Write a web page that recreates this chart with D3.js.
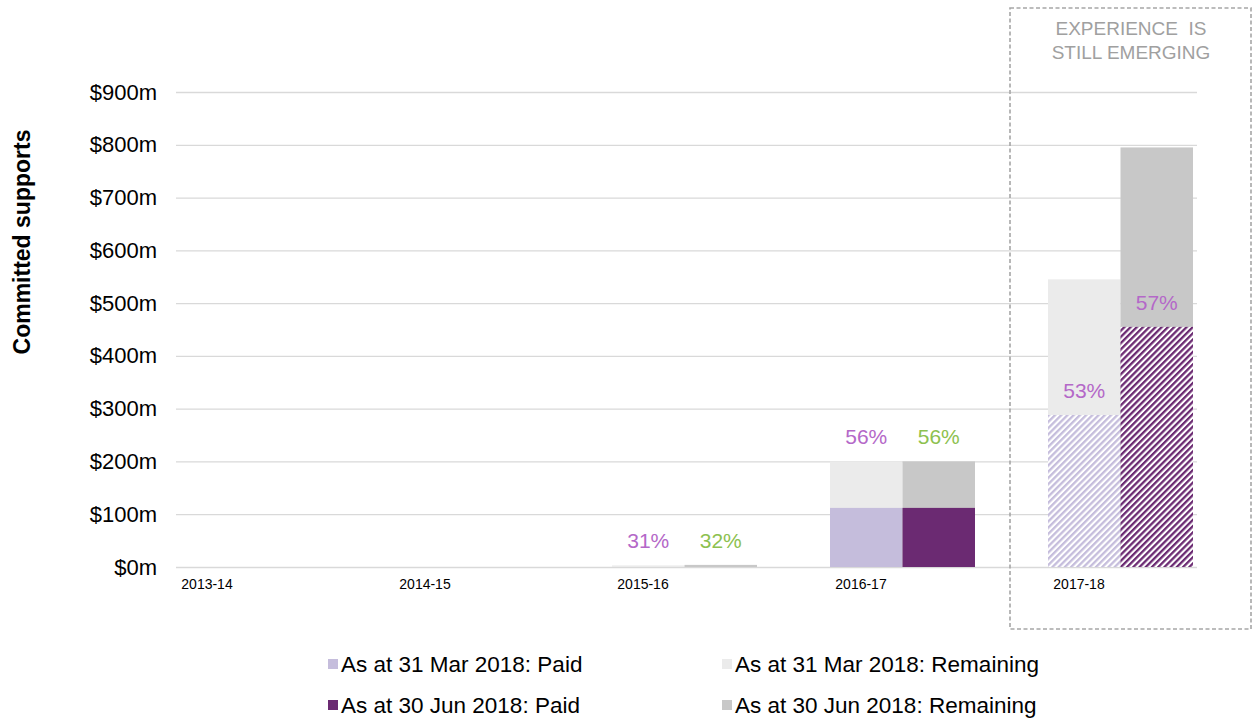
<!DOCTYPE html>
<html><head><meta charset="utf-8">
<script src="https://cdn.jsdelivr.net/npm/d3@7"></script>
<style>body{margin:0;background:#fff}svg{display:block;font-family:"Liberation Sans",Arial,sans-serif}</style>
</head><body><svg id="c" width="1259" height="722"></svg>
<script>
const categories = ["2013-14", "2014-15", "2015-16", "2016-17", "2017-18"];
const marPaid = [0, 0, 0.9, 112, 288];
const marRemaining = [0, 0, 2.1, 88, 257];
const junPaid = [0, 0, 1.3, 112, 455];
const junRemaining = [0, 0, 2.7, 88, 340];
const marPctLabels = ["", "", "31%", "56%", "53%"];
const junPctLabels = ["", "", "32%", "56%", "57%"];
const yTickValues = [0, 100, 200, 300, 400, 500, 600, 700, 800, 900];
const emergingYears = ["2017-18"];
const emergingText = ["EXPERIENCE  IS", "STILL EMERGING"];
const legendLabels = ["As at 31 Mar 2018: Paid", "As at 31 Mar 2018: Remaining", "As at 30 Jun 2018: Paid", "As at 30 Jun 2018: Remaining"];
const yTitle = "Committed supports";

const svg = d3.select("#c");
const defs = svg.append("defs");
function hatch(id, color) {
  const p = defs.append("pattern").attr("id", id).attr("patternUnits", "userSpaceOnUse")
    .attr("width", 4.4).attr("height", 4.4).attr("patternTransform", "rotate(45)");
  p.append("rect").attr("width", 4.4).attr("height", 4.4).attr("fill", "#fff");
  p.append("rect").attr("width", 2.3).attr("height", 4.4).attr("fill", color);
}
const C = {marPaid: "#c5bddc", junPaid: "#6b2a72", marRem: "#ebebeb", junRem: "#c8c8c8", purple: "#b468c8", green: "#8dc14f"};
hatch("hMar", C.marPaid);
hatch("hJun", C.junPaid);

const y = d3.scaleLinear().domain([0, 900]).range([567, 92]);
const x = d3.scaleBand().domain(categories).range([98, 1188]);
const pair = d3.scaleBand().domain(["mar", "jun"]).range([-31, 114]);
const gridL = 176, gridR = 1197;

// y axis + gridlines
const yAxis = svg.append("g").attr("transform", `translate(${gridL},0)`)
  .call(d3.axisLeft(y).tickValues(yTickValues).tickFormat(d => `$${d}m`)
    .tickSizeInner(-(gridR - gridL)).tickSizeOuter(0).tickPadding(19));
yAxis.select(".domain").remove();
yAxis.selectAll(".tick line").attr("stroke", "#d9d9d9").attr("stroke-width", 1.3);
yAxis.selectAll(".tick text").attr("font-size", 22).attr("fill", "#000").attr("font-family", "Liberation Sans, Arial, sans-serif");

// x labels
const xAxis = svg.append("g").attr("transform", `translate(0,567)`)
  .call(d3.axisBottom(x).tickSize(0).tickPadding(12));
xAxis.select(".domain").remove();
xAxis.selectAll(".tick text").attr("font-size", 14).attr("fill", "#000").attr("font-family", "Liberation Sans, Arial, sans-serif");

// bars
const series = [
  {key: "mar", paid: marPaid, rem: marRemaining, paidColor: C.marPaid, remColor: C.marRem, hatch: "url(#hMar)", pct: marPctLabels, pctColor: C.purple},
  {key: "jun", paid: junPaid, rem: junRemaining, paidColor: C.junPaid, remColor: C.junRem, hatch: "url(#hJun)", pct: junPctLabels, pctColor: C.green}
];
const bars = svg.append("g");
series.forEach(s => {
  categories.forEach((c, i) => {
    const cx = x(c) + x.bandwidth() / 2 + pair(s.key);
    const emerging = emergingYears.includes(c);
    const total = s.paid[i] + s.rem[i];
    if (total > 0) {
      bars.append("rect").attr("x", cx).attr("width", pair.bandwidth())
        .attr("y", y(total)).attr("height", y(0) - y(total)).attr("fill", s.remColor);
      if (y(0) - y(s.paid[i]) >= 1) {
        bars.append("rect").attr("x", cx).attr("width", pair.bandwidth())
          .attr("y", y(s.paid[i])).attr("height", y(0) - y(s.paid[i]))
          .attr("fill", emerging ? s.hatch : s.paidColor);
      }
    }
    if (s.pct[i]) {
      const anchor = emerging ? s.paid[i] : total;
      bars.append("text").attr("x", cx + pair.bandwidth() / 2).attr("y", y(anchor) - 17)
        .attr("text-anchor", "middle").attr("font-size", 21)
        .attr("fill", emerging ? C.purple : s.pctColor).text(s.pct[i]);
    }
  });
});

// emerging box
emergingYears.forEach(c => {
  const bx = x(c) + x.bandwidth() / 2 - 69;
  svg.append("rect").attr("x", bx).attr("y", 8).attr("width", 241).attr("height", 621)
    .attr("fill", "none").attr("stroke", "#a6a6a6").attr("stroke-width", 1.6).attr("stroke-dasharray", "4,2.5");
  emergingText.forEach((t, k) => {
    svg.append("text").attr("x", bx + 121).attr("y", 35 + k * 24).attr("text-anchor", "middle")
      .attr("xml:space", "preserve").style("white-space", "pre")
      .attr("font-size", 19).attr("fill", "#a0a0a0").text(t);
  });
});

// y title
svg.append("text").attr("transform", "translate(30,242) rotate(-90)").attr("text-anchor", "middle")
  .attr("font-size", 23).attr("font-weight", "bold").attr("fill", "#000").text(yTitle);

// legend
const legendColors = [C.marPaid, C.marRem, C.junPaid, C.junRem];
const lg = svg.append("g");
legendLabels.forEach((t, k) => {
  const lx = [328, 722][k % 2], ly = [664, 705][Math.floor(k / 2)];
  lg.append("rect").attr("x", lx).attr("y", ly - 5).attr("width", 10).attr("height", 10).attr("fill", legendColors[k]);
  lg.append("text").attr("x", lx + 13).attr("y", ly + 8).attr("font-size", 22.5).attr("fill", "#000").text(t);
});
</script></body></html>
